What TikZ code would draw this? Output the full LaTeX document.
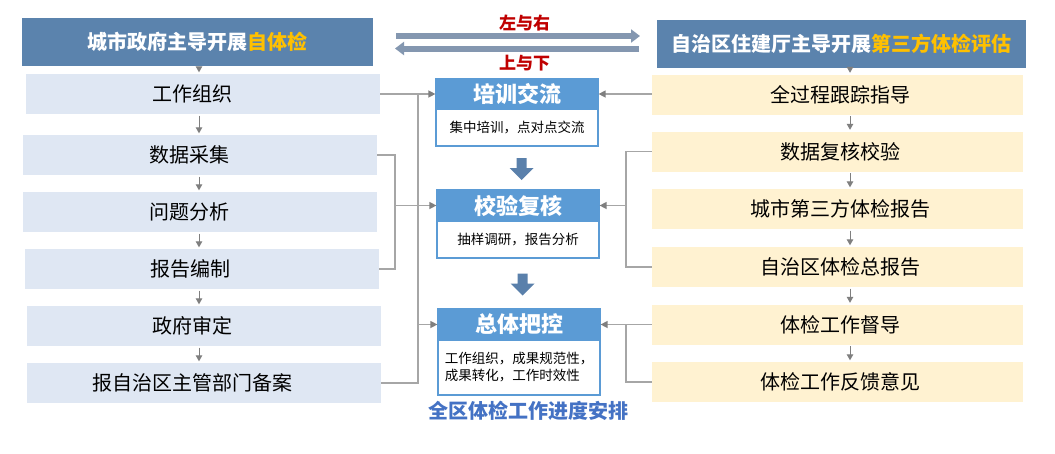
\documentclass[tikz,border=0pt]{standalone}
\usepackage{fontspec}
\setmainfont{Noto Sans CJK SC}
\usetikzlibrary{arrows.meta,calc}
\definecolor{hdr}{HTML}{5B83AD}
\definecolor{gold}{HTML}{FFC000}
\definecolor{lblue}{HTML}{DFE7F3}
\definecolor{cream}{HTML}{FFF2D1}
\definecolor{tblue}{HTML}{5B9BD5}
\definecolor{lineg}{HTML}{A6A6A6}
\definecolor{tipg}{HTML}{7F7F7F}
\definecolor{dblar}{HTML}{8497B0}
\definecolor{darkred}{HTML}{C00000}
\definecolor{botblue}{HTML}{4472C4}
\definecolor{blk}{HTML}{5A80AB}
\newcommand\blkarrow[1]{\fill[blk] (#1) ++(-5,-10) -- ++(10,0) -- ++(0,10) -- ++(7,0) -- ++(-12,12) -- ++(-12,-12) -- ++(7,0) -- cycle;}
\tikzset{
  hdrbox/.style={fill=hdr, text=white, inner sep=0pt, minimum height=48pt, font=\fontsize{20}{24}\selectfont\bfseries},
  lbox/.style={fill=lblue, inner sep=0pt, minimum width=354pt, minimum height=40pt, font=\fontsize{20}{24}\selectfont, execute at begin node=\hspace*{-22pt}},
  rbox/.style={fill=cream, inner sep=0pt, minimum width=371pt, minimum height=40pt, font=\fontsize{20}{24}\selectfont, execute at begin node=\hspace*{6pt}},
  titlebox/.style={fill=tblue, draw=tblue, line width=1.2pt, text=white, inner sep=0pt, minimum width=162pt, minimum height=31pt, font=\fontsize{22}{26}\selectfont\bfseries},
  contbox/.style={fill=white, draw=tblue, line width=1.2pt, inner sep=0pt, minimum width=162pt, align=left, font=\fontsize{13.5}{17}\selectfont},
  flow/.style={draw=tipg, line width=1pt, shorten <=1.5pt, shorten >=1.5pt, -{Triangle[length=6pt,width=6.5pt]}},
  conn/.style={draw=lineg, line width=1.3pt},
  connar/.style={conn, -{Triangle[length=7pt,width=7pt,color=tipg]}},
  dbl/.style={draw=dblar, line width=6pt, -{Triangle[length=9pt,width=13pt]}},
  redlab/.style={text=darkred, inner sep=0pt, font=\fontsize{17}{20}\selectfont\bfseries},
  botlab/.style={text=botblue, inner sep=0pt, font=\fontsize{20}{24}\selectfont\bfseries}
}
\begin{document}
\begin{tikzpicture}[x=1pt,y=-1pt]
\useasboundingbox (0,0) rectangle (1055,453);
\fill[white] (0,0) rectangle (1055,453);
% headers
\node[hdrbox, minimum width=351pt] (hl) at (197.5,42) {城市政府主导开展\textcolor{gold}{自体检}};
\node[hdrbox, minimum width=369pt] (hr) at (841.5,44) {自治区住建厅主导开展\textcolor{gold}{第三方体检评估}};
% left column
\node[lbox] (lb1) at (203,94) {工作组织};
\node[lbox] (lb2) at (200,155) {数据采集};
\node[lbox] (lb3) at (200,212) {问题分析};
\node[lbox] (lb4) at (201.5,269) {报告编制};
\node[lbox] (lb5) at (203.5,326) {政府审定};
\node[lbox] (lb6) at (203.5,383) {报自治区主管部门备案};
% right column
\node[rbox] (rb1) at (837.5,94.5) {全过程跟踪指导};
\node[rbox] (rb2) at (837.5,151.5) {数据复核校验};
\node[rbox] (rb3) at (837.5,209) {城市第三方体检报告};
\node[rbox] (rb4) at (837.5,267) {自治区体检总报告};
\node[rbox] (rb5) at (837.5,324.5) {体检工作督导};
\node[rbox] (rb6) at (837.5,382) {体检工作反馈意见};
% middle boxes
\node[contbox, minimum height=37pt] (c1) at (517,127.5) {集中培训，点对点交流};
\node[titlebox] (t1) at (517,94) {培训交流};
\node[contbox, minimum height=37pt] (c2) at (518,239.5) {抽样调研，报告分析};
\node[titlebox] (t2) at (518,205.5) {校验复核};
\node[contbox, minimum height=55pt] (c3) at (519,367.5) {工作组织，成果规范性，\\成果转化，工作时效性};
\node[titlebox] (t3) at (519,324.5) {总体把控};
% labels
\node[redlab] (lr) at (524.5,23) {左与右};
\node[redlab] (ud) at (524.5,63) {上与下};
\node[botlab] (note) at (528,411) {全区体检工作进度安排};
% double arrows
\coordinate (a1s) at (396,36);
\coordinate (a1e) at (640,36);
\coordinate (a2s) at (639,48.5);
\coordinate (a2e) at (395,48.5);
\draw[dbl] (a1s) -- (a1e);
\draw[dbl] (a2s) -- (a2e);
% block arrows
\blkarrow{$($(c1.south)!0.5!(t2.north)$)+(4,0)$}
\blkarrow{$($(c2.south)!0.5!(t3.north)$)+(4,0)$}
% column flows
\coordinate (colL) at (199,0);
\coordinate (colR) at (850,0);
\draw[flow] (hl.south -| colL) -- (lb1.north -| colL);
\draw[flow] (lb1.south -| colL) -- (lb2.north -| colL);
\draw[flow] (lb2.south -| colL) -- (lb3.north -| colL);
\draw[flow] (lb3.south -| colL) -- (lb4.north -| colL);
\draw[flow] (lb4.south -| colL) -- (lb5.north -| colL);
\draw[flow] (lb5.south -| colL) -- (lb6.north -| colL);
\draw[flow] (hr.south -| colR) -- (rb1.north -| colR);
\draw[flow] (rb1.south -| colR) -- (rb2.north -| colR);
\draw[flow] (rb2.south -| colR) -- (rb3.north -| colR);
\draw[flow] (rb3.south -| colR) -- (rb4.north -| colR);
\draw[flow] (rb4.south -| colR) -- (rb5.north -| colR);
\draw[flow] (rb5.south -| colR) -- (rb6.north -| colR);
% connectors left
\coordinate (busL1) at (418,0);
\coordinate (busL2) at (395,0);
\coordinate (busR) at (626,0);
\draw[connar] (lb1.east) -- (t1.west);
\draw[conn] (lb1.east -| busL1) -- (lb6.east -| busL1) -- (lb6.east);
\draw[connar] (t3.west -| busL1) -- (t3.west);
\draw[conn] (lb2.east) -- (lb2.east -| busL2) -- (lb4.east -| busL2) -- (lb4.east);
\draw[connar] (t2.west -| busL2) -- (t2.west);
% connectors right
\draw[connar] (rb1.west |- t1.east) -- (t1.east);
\draw[conn] (rb2.west) -- (rb2.west -| busR) -- (rb4.west -| busR) -- (rb4.west);
\draw[connar] (t2.east -| busR) -- (t2.east);
\draw[connar] (rb5.west) -- (t3.east);
\draw[conn] (rb5.west -| busR) -- (rb6.west -| busR) -- (rb6.west);
\end{tikzpicture}
\end{document}
